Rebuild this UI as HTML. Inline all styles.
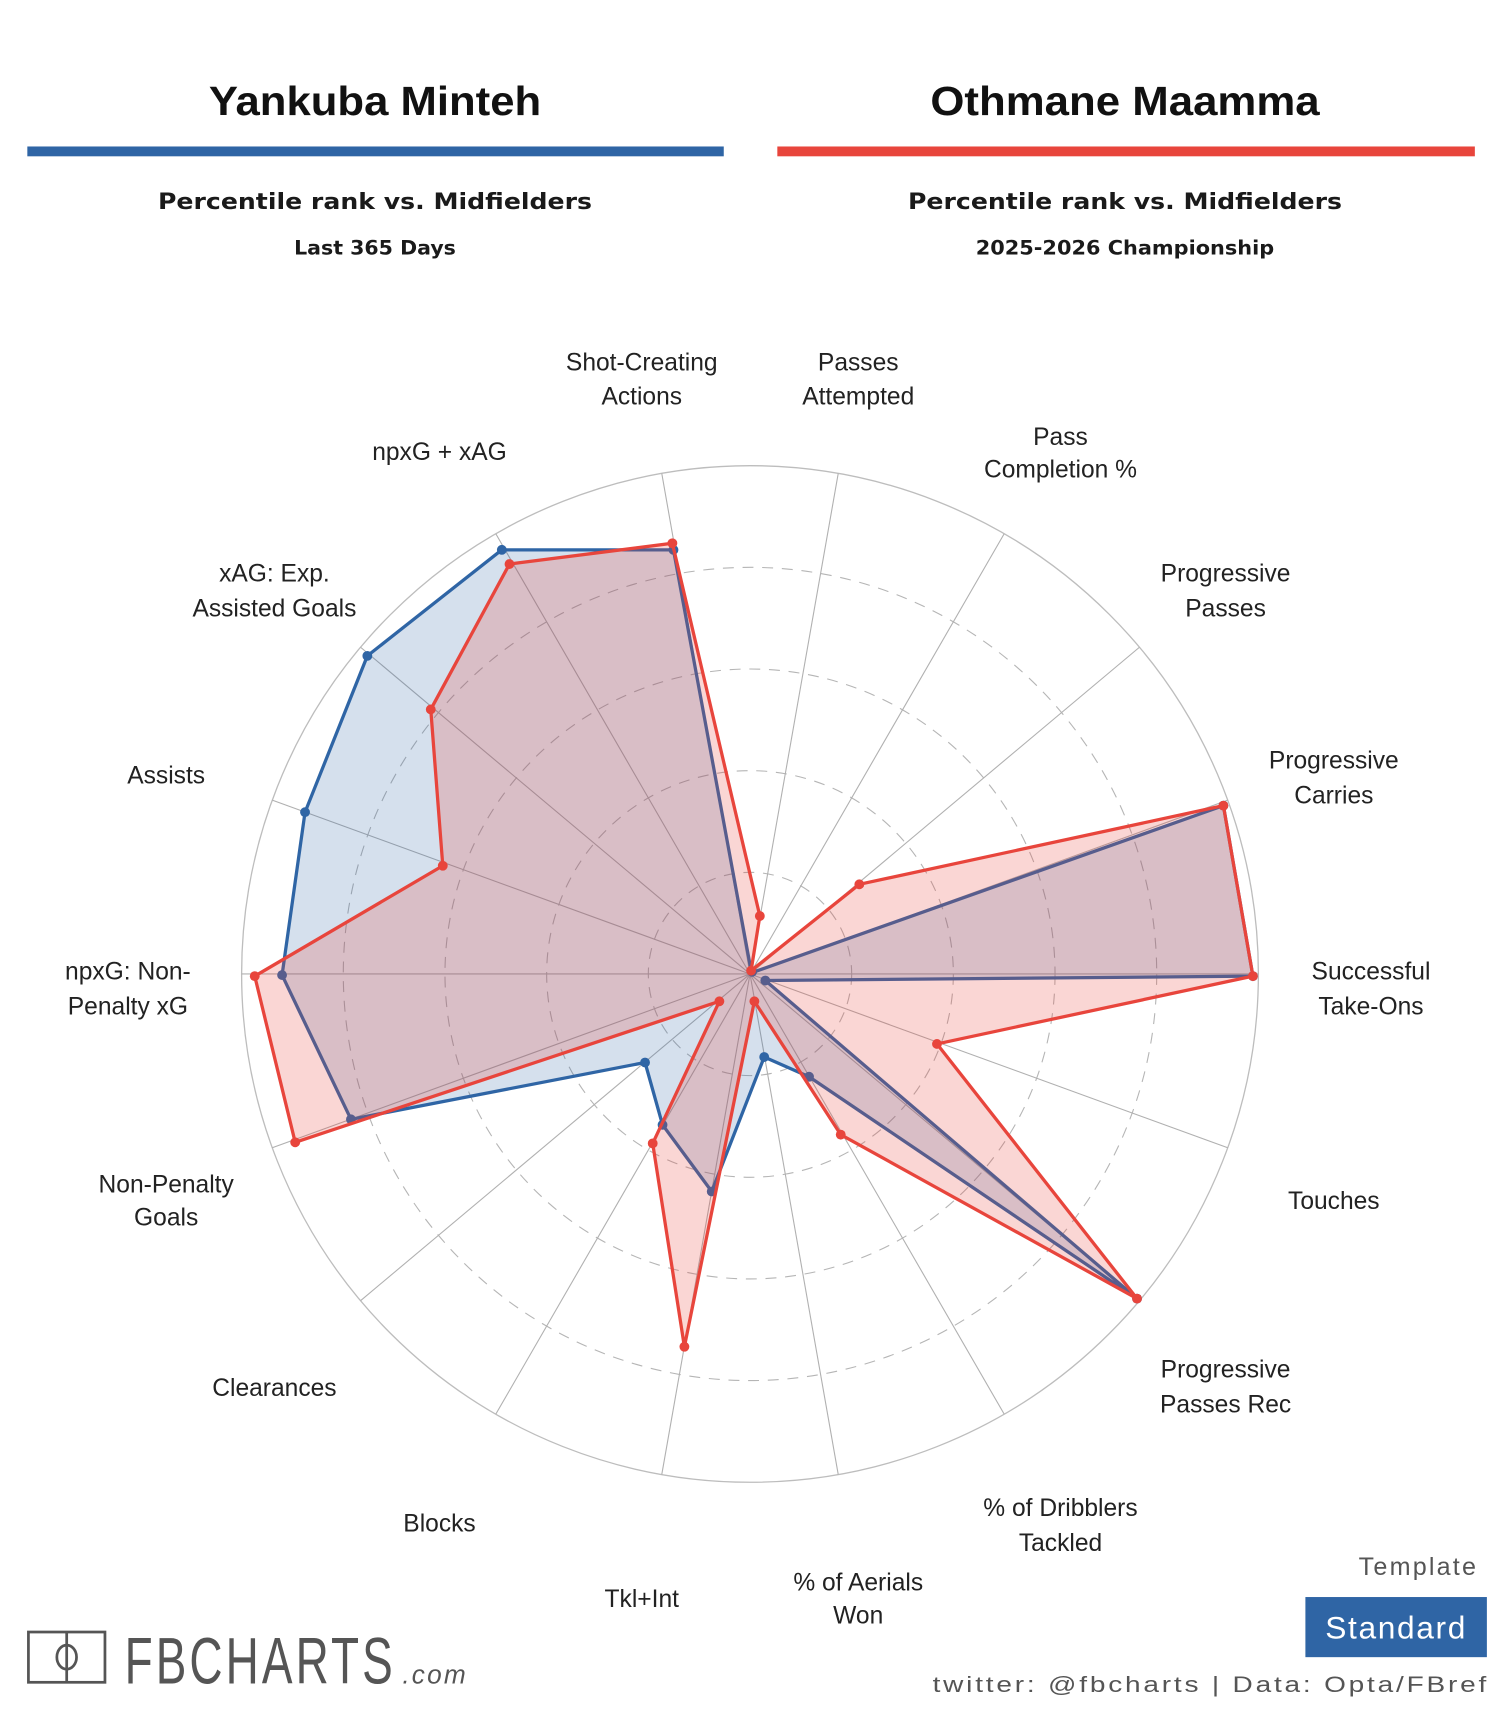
<!DOCTYPE html>
<html><head><meta charset="utf-8"><style>
html,body{margin:0;padding:0;background:#fff;}
svg{display:block;}
text{font-family:"Liberation Sans",Arial,sans-serif;}
.lb{font-size:22.5px;fill:#222;text-anchor:middle;}
.sub{font-family:"DejaVu Sans",sans-serif;font-weight:bold;fill:#1a1a1a;text-anchor:middle;}
</style></head><body>
<svg width="1500" height="1714" viewBox="0 0 1372 1568" preserveAspectRatio="none" xmlns="http://www.w3.org/2000/svg">
<rect width="1372" height="1568" fill="#fff"/>
<text x="343" y="105" text-anchor="middle" font-size="37" font-weight="bold" fill="#111" textLength="304" lengthAdjust="spacingAndGlyphs">Yankuba Minteh</text>
<text x="1029" y="105" text-anchor="middle" font-size="37" font-weight="bold" fill="#111" textLength="356" lengthAdjust="spacingAndGlyphs">Othmane Maamma</text>
<rect x="25" y="134" width="637" height="9" fill="#2f65a5"/>
<rect x="711" y="134" width="638" height="9" fill="#e8453c"/>
<text class="sub" x="343" y="191" font-size="20" textLength="397" lengthAdjust="spacingAndGlyphs">Percentile rank vs. Midfielders</text>
<text class="sub" x="1029" y="191" font-size="20" textLength="397" lengthAdjust="spacingAndGlyphs">Percentile rank vs. Midfielders</text>
<text class="sub" x="343" y="233" font-size="18" textLength="148" lengthAdjust="spacingAndGlyphs">Last 365 Days</text>
<text class="sub" x="1029" y="233" font-size="18" textLength="273" lengthAdjust="spacingAndGlyphs">2025-2026 Championship</text>

<g fill="none" stroke="#bdbdbd" stroke-width="1.2">
<circle cx="686" cy="891" r="465"/>
</g>
<g fill="none" stroke="#b5b5b5" stroke-width="1" stroke-dasharray="10,8">
<circle cx="686" cy="891" r="93"/>
<circle cx="686" cy="891" r="186"/>
<circle cx="686" cy="891" r="279"/>
<circle cx="686" cy="891" r="372"/>
</g>
<g stroke="#b0b0b0" stroke-width="1">
<line x1="686" y1="891" x2="766.7" y2="433.1"/>
<line x1="686" y1="891" x2="918.5" y2="488.3"/>
<line x1="686" y1="891" x2="1042.2" y2="592.1"/>
<line x1="686" y1="891" x2="1123" y2="732"/>
<line x1="686" y1="891" x2="1151" y2="891"/>
<line x1="686" y1="891" x2="1123" y2="1050"/>
<line x1="686" y1="891" x2="1042.2" y2="1189.9"/>
<line x1="686" y1="891" x2="918.5" y2="1293.7"/>
<line x1="686" y1="891" x2="766.7" y2="1348.9"/>
<line x1="686" y1="891" x2="605.3" y2="1348.9"/>
<line x1="686" y1="891" x2="453.5" y2="1293.7"/>
<line x1="686" y1="891" x2="329.8" y2="1189.9"/>
<line x1="686" y1="891" x2="249" y2="1050"/>
<line x1="686" y1="891" x2="221" y2="891"/>
<line x1="686" y1="891" x2="249" y2="732"/>
<line x1="686" y1="891" x2="329.8" y2="592.1"/>
<line x1="686" y1="891" x2="453.5" y2="488.3"/>
<line x1="686" y1="891" x2="605.3" y2="433.1"/>
</g>

<polygon points="687,888 688,889 690,889 1119,737 1146,893 700,897 1040,1188 740,985 699,967 651,1090 606,1029 590,972 321,1024 258,892 279,743 336,600 459,503 616,503" fill="rgba(47,101,165,0.2)" stroke="#2f65a5" stroke-width="3" stroke-linejoin="round"/>
<g fill="#2f65a5">
<circle cx="1119" cy="737" r="4.5"/><circle cx="1146" cy="893" r="4.5"/><circle cx="700" cy="897" r="4.5"/><circle cx="1040" cy="1188" r="4.5"/><circle cx="740" cy="985" r="4.5"/><circle cx="699" cy="967" r="4.5"/><circle cx="651" cy="1090" r="4.5"/><circle cx="606" cy="1029" r="4.5"/><circle cx="590" cy="972" r="4.5"/><circle cx="321" cy="1024" r="4.5"/><circle cx="258" cy="892" r="4.5"/><circle cx="279" cy="743" r="4.5"/><circle cx="336" cy="600" r="4.5"/><circle cx="459" cy="503" r="4.5"/><circle cx="616" cy="503" r="4.5"/><circle cx="688" cy="889" r="4.5"/>
</g>
<polygon points="695,838 687,888 786,809 1119,737 1146,893 857,955 1040,1188 769,1038 690,916 626,1232 597,1046 658,916 270,1045 233,893 405,792 394,649 466,516 615,497" fill="rgba(232,69,60,0.22)" stroke="#e8453c" stroke-width="3" stroke-linejoin="round"/>
<g fill="#e8453c">
<circle cx="695" cy="838" r="4.5"/><circle cx="687" cy="888" r="4.5"/><circle cx="786" cy="809" r="4.5"/><circle cx="1119" cy="737" r="4.5"/><circle cx="1146" cy="893" r="4.5"/><circle cx="857" cy="955" r="4.5"/><circle cx="1040" cy="1188" r="4.5"/><circle cx="769" cy="1038" r="4.5"/><circle cx="690" cy="916" r="4.5"/><circle cx="626" cy="1232" r="4.5"/><circle cx="597" cy="1046" r="4.5"/><circle cx="658" cy="916" r="4.5"/><circle cx="270" cy="1045" r="4.5"/><circle cx="233" cy="893" r="4.5"/><circle cx="405" cy="792" r="4.5"/><circle cx="394" cy="649" r="4.5"/><circle cx="466" cy="516" r="4.5"/><circle cx="615" cy="497" r="4.5"/>
</g>

<g>
<text class="lb" x="587" y="339">Shot-Creating</text><text class="lb" x="587" y="370">Actions</text>
<text class="lb" x="785" y="339">Passes</text><text class="lb" x="785" y="370">Attempted</text>
<text class="lb" x="970" y="407">Pass</text><text class="lb" x="970" y="437">Completion %</text>
<text class="lb" x="1121" y="532">Progressive</text><text class="lb" x="1121" y="564">Passes</text>
<text class="lb" x="1220" y="703">Progressive</text><text class="lb" x="1220" y="735">Carries</text>
<text class="lb" x="1254" y="896">Successful</text><text class="lb" x="1254" y="928">Take-Ons</text>
<text class="lb" x="1220" y="1106">Touches</text>
<text class="lb" x="1121" y="1260">Progressive</text><text class="lb" x="1121" y="1292">Passes Rec</text>
<text class="lb" x="970" y="1387">% of Dribblers</text><text class="lb" x="970" y="1419">Tackled</text>
<text class="lb" x="785" y="1455">% of Aerials</text><text class="lb" x="785" y="1485">Won</text>
<text class="lb" x="587" y="1470">Tkl+Int</text>
<text class="lb" x="402" y="1401">Blocks</text>
<text class="lb" x="251" y="1277">Clearances</text>
<text class="lb" x="152" y="1091">Non-Penalty</text><text class="lb" x="152" y="1121">Goals</text>
<text class="lb" x="117" y="896">npxG: Non-</text><text class="lb" x="117" y="928">Penalty xG</text>
<text class="lb" x="152" y="717">Assists</text>
<text class="lb" x="251" y="532">xAG: Exp.</text><text class="lb" x="251" y="564">Assisted Goals</text>
<text class="lb" x="402" y="421">npxG + xAG</text>
</g>

<g fill="none" stroke="#555" stroke-width="2.5">
<rect x="26" y="1493" width="70" height="46"/>
<line x1="61" y1="1493" x2="61" y2="1539"/>
<ellipse cx="61" cy="1516" rx="9" ry="11"/>
</g>
<text x="114" y="1540" font-size="60" fill="#555" font-family="'DejaVu Sans',sans-serif" letter-spacing="4" textLength="248" lengthAdjust="spacingAndGlyphs">FBCHARTS</text>
<text x="368" y="1540" font-size="24" fill="#555" font-style="italic" letter-spacing="2">.com</text>
<text x="1352" y="1441" font-size="23" fill="#555" text-anchor="end" font-family="'DejaVu Sans',sans-serif" letter-spacing="2">Template</text>
<rect x="1194" y="1461" width="166" height="55" fill="#2f65a5"/>
<text x="1277" y="1499" font-size="29" fill="#fff" text-anchor="middle" font-family="'DejaVu Sans',sans-serif" letter-spacing="1.5">Standard</text>
<text x="853" y="1548" font-size="20" fill="#555" font-family="'DejaVu Sans',sans-serif" letter-spacing="2" textLength="509" lengthAdjust="spacingAndGlyphs">twitter: @fbcharts | Data: Opta/FBref</text>
</svg>
</body></html>
